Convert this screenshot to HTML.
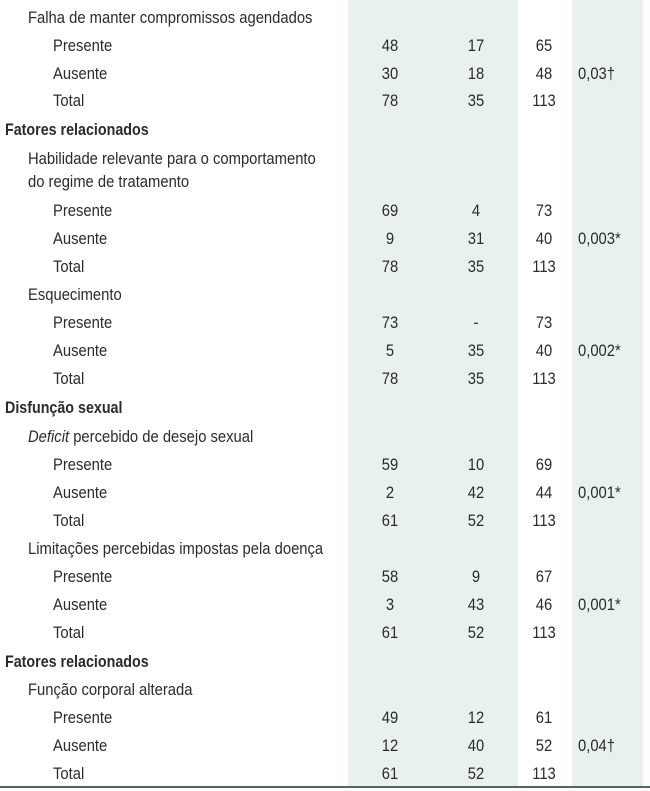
<!DOCTYPE html>
<html><head><meta charset="utf-8">
<style>
html,body{margin:0;padding:0;background:#fff;}
#wrap{position:relative;width:650px;height:791px;overflow:hidden;font-family:"Liberation Sans",sans-serif;font-size:17px;color:#2b2b2b;}
.shade{position:absolute;top:0;background:#e8f1ef;}
.t{position:absolute;white-space:nowrap;line-height:20px;transform:scaleX(0.87);transform-origin:0 50%;}
.b{font-weight:bold;transform:scaleX(0.84);}
.num{position:absolute;width:60px;text-align:center;line-height:20px;transform:scaleX(0.87);}
</style></head>
<body>
<div id="wrap">
<div class="shade" style="left:348px;width:170px;height:787px"></div>
<div class="shade" style="left:572px;width:71px;height:787px"></div>
<div style="position:absolute;left:0;top:786px;width:650px;height:2px;background:#4a6a5e"></div>
</div>
<script>
const labels=["Falha de manter compromissos agendados","Presente","Ausente","Total","Fatores relacionados","Habilidade relevante para o comportamento","do regime de tratamento","Presente","Ausente","Total","Esquecimento","Presente","Ausente","Total","Disfunção sexual","DEFICIT","Presente","Ausente","Total","Limitações percebidas impostas pela doença","Presente","Ausente","Total","Fatores relacionados","Função corporal alterada","Presente","Ausente","Total"];
const levels=[1,2,2,2,0,1,1,2,2,2,1,2,2,2,0,1,2,2,2,1,2,2,2,0,1,2,2,2];
const rowY=[17,45,73,100,129,158,181,210,238,266,294,322,350,378,407,436,464,492,520,548,576,604,632,661,689,717,745,773];
const col1=["","48","30","78","","","","69","9","78","","73","5","78","","","59","2","61","","58","3","61","","","49","12","61"];
const col2=["","17","18","35","","","","4","31","35","","-","35","35","","","10","42","52","","9","43","52","","","12","40","52"];
const col3=["","65","48","113","","","","73","40","113","","73","40","113","","","69","44","113","","67","46","113","","","61","52","113"];
const pvals=["","","0,03†","","","","","","0,003*","","","","0,002*","","","","","0,001*","","","","0,001*","","","","","0,04†",""];
const wrap=document.getElementById('wrap');
const indent=[5,28,53];
for(let i=0;i<labels.length;i++){
  const d=document.createElement('div');
  d.className='t'+(levels[i]===0?' b':'');
  d.style.left=indent[levels[i]]+'px';
  d.style.top=(rowY[i]-9)+'px';
  if(labels[i]==="DEFICIT"){d.innerHTML='<i>Deficit</i> percebido de desejo sexual';}
  else d.textContent=labels[i];
  
  
  wrap.appendChild(d);
  const cols=[[col1,390],[col2,476],[col3,544]];
  for(const [arr,cx] of cols){
    if(!arr[i])continue;
    const n=document.createElement('div');
    n.className='num';n.style.left=(cx-30)+'px';n.style.top=(rowY[i]-9)+'px';
    n.textContent=arr[i];
    
    
    wrap.appendChild(n);
  }
  if(pvals[i]){
    const p=document.createElement('div');
    p.className='t';p.style.left='578px';p.style.top=(rowY[i]-9)+'px';
    p.textContent=pvals[i];
    
    
    wrap.appendChild(p);
  }
}
</script>
</body></html>
